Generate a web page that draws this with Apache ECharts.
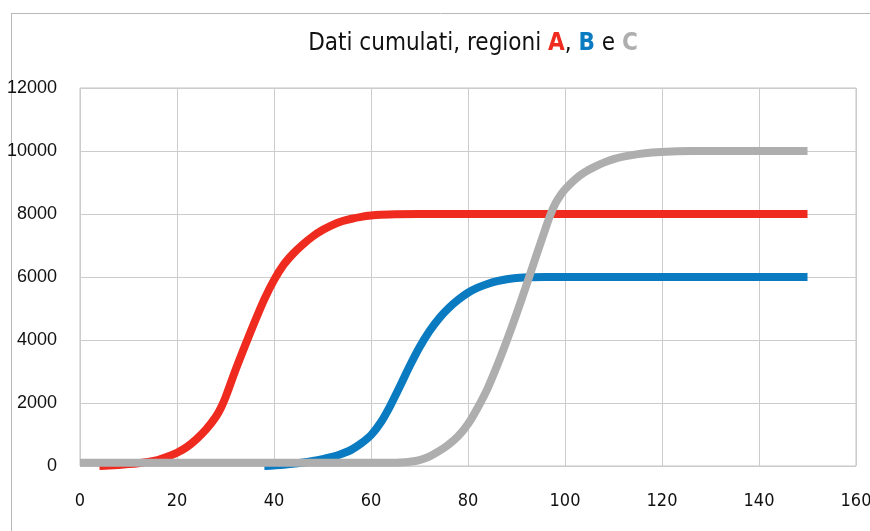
<!DOCTYPE html>
<html>
<head>
<meta charset="utf-8">
<script src="https://cdn.jsdelivr.net/npm/echarts@6/dist/echarts.min.js"></script>
<style>
html,body{margin:0;padding:0;background:#fff;}
#c{width:870px;height:531px;}
</style>
</head>
<body>
<div id="c"></div>
<script>
// Data
const xTicks = [0, 20, 40, 60, 80, 100, 120, 140, 160];
const yTicks = [0, 2000, 4000, 6000, 8000, 10000, 12000];

const regionA = [[4,0],[6,15],[8,35],[10,60],[12,90],[14,130],[16,190],[18,290],[20,420],[22,600],[24,850],[26,1160],[28,1560],[29,1830],[30,2180],[32,3020],[34,3810],[36,4570],[38,5290],[40,5900],[42,6390],[44,6750],[46,7040],[48,7290],[50,7490],[52,7650],[54,7770],[56,7850],[58,7910],[60,7950],[62,7975],[65,7995],[70,8000],[150,8000]];
const regionB = [[38,0],[42,40],[46,110],[48,160],[50,220],[52,290],[54,390],[56,520],[58,720],[60,980],[62,1380],[64,1920],[66,2540],[68,3180],[70,3770],[72,4270],[74,4680],[76,5010],[78,5280],[80,5500],[82,5660],[84,5780],[86,5870],[88,5930],[90,5970],[93,5995],[96,6000],[150,6000]];
const regionC = [[0,100],[62,100],[64,102],[66,110],[68,135],[70,190],[72,300],[74,470],[76,680],[78,950],[80,1330],[82,1850],[84,2450],[86,3180],[88,3980],[90,4830],[92,5720],[94,6640],[96,7550],[97,7980],[98,8330],[99,8580],[100,8780],[102,9090],[104,9320],[106,9490],[108,9630],[110,9740],[112,9820],[115,9900],[118,9950],[122,9985],[126,10000],[150,10000]];

const colA = '#EF2A1E', colB = '#0A7BC1', colC = '#AEAEAE';
const fontNarrow = '"Liberation Sans Narrow", "DejaVu Sans Condensed", sans-serif';

const chart = echarts.init(document.getElementById('c'), null, {renderer: 'canvas'});
function mkSeries(name, data, color) {
  return {
    name, type: 'line', data, showSymbol: false, symbol: 'none',
    smooth: 0.3,
    lineStyle: {color, width: 8, cap: 'butt', join: 'round'},
    itemStyle: {color}, animation: false
  };
}
chart.setOption({
  animation: false,
  backgroundColor: '#fff',
  title: {
    text: 'Dati cumulati, regioni {a|A}, {b|B} e {c|C}',
    left: 468, top: 27, textAlign: 'center',
    textStyle: {
      fontFamily: fontNarrow, fontSize: 24, fontWeight: 'normal', color: '#111',
      rich: {
        a: {fontFamily: fontNarrow, fontSize: 24, fontWeight: 'bold', color: colA},
        b: {fontFamily: fontNarrow, fontSize: 24, fontWeight: 'bold', color: colB},
        c: {fontFamily: fontNarrow, fontSize: 24, fontWeight: 'bold', color: colC}
      }
    }
  },
  graphic: [
    {type: 'line', shape: {x1: 11.5, y1: 13, x2: 11.5, y2: 531}, style: {stroke: '#b8b8b8', lineWidth: 1}, silent: true},
    {type: 'line', shape: {x1: 11, y1: 13.5, x2: 870, y2: 13.5}, style: {stroke: '#b8b8b8', lineWidth: 1}, silent: true}
  ],
  grid: {left: 80, right: 14, top: 88, bottom: 65, show: true, borderColor: '#c4c4c4', borderWidth: 1, containLabel: false, outerBoundsMode: 'none'},
  xAxis: {
    type: 'value', min: xTicks[0], max: xTicks[xTicks.length-1], interval: 20,
    axisLine: {show: false}, axisTick: {show: false},
    splitLine: {show: true, lineStyle: {color: '#cccccc', width: 1}},
    axisLabel: {margin: 26, fontFamily: '"DejaVu Sans Condensed", sans-serif', fontSize: 18, color: '#111'}
  },
  yAxis: {
    type: 'value', min: yTicks[0], max: yTicks[yTicks.length-1], interval: 2000,
    axisLine: {show: false}, axisTick: {show: false},
    splitLine: {show: true, lineStyle: {color: '#cccccc', width: 1}},
    axisLabel: {margin: 23, fontFamily: '"Liberation Sans", Arial, sans-serif', fontSize: 18, color: '#111',
      formatter: v => String(v)}
  },
  series: [
    mkSeries('A', regionA, colA),
    mkSeries('B', regionB, colB),
    mkSeries('C', regionC, colC)
  ]
});
</script>
</body>
</html>
